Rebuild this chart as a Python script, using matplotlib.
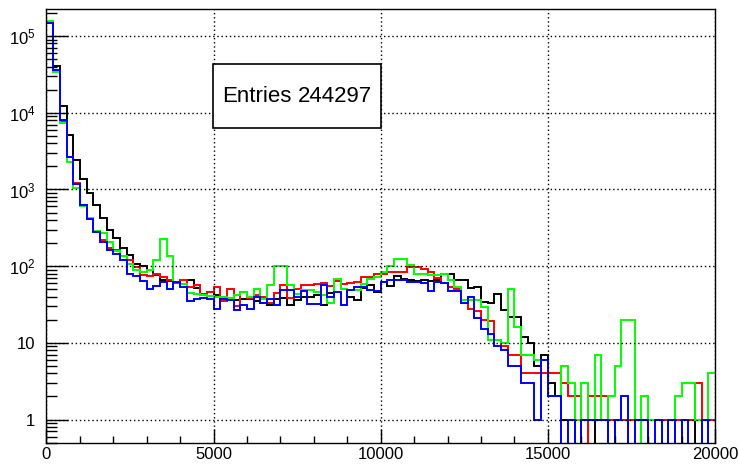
import numpy as np
import matplotlib
matplotlib.use('Agg')
import matplotlib.pyplot as plt
from matplotlib.patches import Rectangle
from matplotlib.ticker import FixedLocator, FuncFormatter, MultipleLocator, NullFormatter

plt.rcParams['font.family'] = ['Liberation Sans', 'DejaVu Sans']
plt.rcParams['mathtext.fontset'] = 'custom'
plt.rcParams['mathtext.rm'] = 'Liberation Sans'
plt.rcParams['mathtext.it'] = 'Liberation Sans:italic'

# 100 bins of width 200 between 0 and 20000
bin_edges = np.linspace(0, 20000, 101)
n_entries = 244297

h_black = [150000, 40700, 12200, 5200, 2450, 1350, 900, 620, 420, 295,
           236, 170, 139, 108, 100, 88, 76, 66, 64, 62,
           58, 66, 52, 44, 46, 42, 40, 37, 36, 37,
           37, 35, 33, 31, 37, 38, 31, 36, 40, 40,
           42, 31, 45, 65, 50, 40, 36, 52, 56, 46,
           62, 55, 75, 68, 66, 64, 66, 65, 66, 78,
           78, 66, 66, 52, 53, 34, 33, 44, 27, 22,
           22, 12, 10, 5, 7, 3, 2, 1, 1, 0,
           1, 0, 1, 1, 0, 1, 1, 0, 1, 0,
           1, 1, 0, 1, 0, 1, 1, 0, 1, 0]

h_red = [148000, 35000, 7900, 2650, 1200, 620, 417, 290, 222, 170,
         161, 134, 120, 98, 76, 74, 80, 72, 66, 60,
         66, 54, 56, 44, 46, 54, 35, 51, 30, 46,
         39, 42, 40, 33, 45, 57, 39, 50, 57, 57,
         59, 60, 55, 65, 59, 60, 63, 73, 73, 80,
         80, 83, 85, 85, 98, 98, 92, 84, 70, 60,
         54, 50, 33, 28, 26, 20, 19, 11, 9, 7,
         7, 4, 4, 4, 4, 4, 4, 3, 2, 2,
         0, 2, 2, 2, 1, 1, 1, 1, 1, 1,
         1, 1, 1, 1, 1, 1, 1, 3, 1, 1]

h_green = [155000, 34000, 7400, 2300, 1030, 600, 430, 290, 272, 207,
           160, 134, 108, 88, 85, 88, 120, 225, 134, 62,
           58, 45, 43, 42, 41, 40, 40, 39, 42, 46,
           40, 51, 37, 57, 100, 100, 57, 44, 49, 49,
           46, 42, 33, 69, 51, 49, 49, 59, 69, 72,
           83, 100, 125, 125, 104, 80, 80, 76, 76, 78,
           66, 54, 36, 36, 36, 29, 11, 11, 10, 51,
           16, 7, 7, 6, 6, 2, 2, 5, 3, 1,
           3, 1, 7, 1, 2, 5, 20, 20, 0, 2,
           1, 1, 0, 0, 2, 3, 3, 1, 0, 4]

h_blue = [150000, 35800, 8100, 2650, 1190, 620, 410, 280, 207, 161,
          142, 120, 80, 74, 65, 51, 55, 62, 51, 62,
          53, 35, 37, 38, 37, 28, 37, 36, 27, 31,
          28, 40, 33, 37, 31, 49, 49, 40, 47, 32,
          32, 57, 40, 46, 31, 49, 54, 54, 49, 47,
          62, 66, 66, 66, 63, 63, 60, 47, 63, 60,
          47, 47, 33, 40, 21, 15, 13, 9, 8, 5,
          5, 3, 3, 1, 6, 2, 2, 0, 1, 0,
          1, 1, 1, 1, 0, 1, 2, 0, 1, 1,
          0, 1, 0, 1, 0, 1, 0, 0, 1, 0]

fig = plt.figure(figsize=(7.39, 4.65), dpi=100)
ax = fig.add_axes([0.0629, 0.048, 0.9046, 0.9326])

for counts, col in [(h_black, 'black'), (h_red, '#ff0000'),
                    (h_green, '#00ff00'), (h_blue, '#0000ff')]:
    c = np.asarray(counts, dtype=float)
    # empty bins drop below the frame like in ROOT
    c = np.where(c > 0, c, 1e-2)
    ax.stairs(c, bin_edges, color=col, lw=1.4, baseline=None)

ax.set_yscale('log')
ax.set_xlim(0, 20000)
ax.set_ylim(0.5, 2.25e5)


def ylab(v, pos):
    e = int(round(np.log10(v)))
    if e == 0:
        return '1'
    if e == 1:
        return '10'
    return r'$10^{%d}$' % e


ax.yaxis.set_major_locator(FixedLocator([1, 10, 1e2, 1e3, 1e4, 1e5]))
ax.yaxis.set_major_formatter(FuncFormatter(ylab))
minors = [m * 10.0 ** d for d in range(-1, 6) for m in range(2, 10)]
ax.yaxis.set_minor_locator(FixedLocator(minors))
ax.yaxis.set_minor_formatter(NullFormatter())

ax.xaxis.set_major_locator(MultipleLocator(5000))
ax.xaxis.set_minor_locator(MultipleLocator(1000))

ax.tick_params(axis='y', which='major', direction='in', length=16, width=1,
               labelsize=12, pad=8)
ax.tick_params(axis='y', which='minor', direction='in', length=8, width=1)
ax.tick_params(axis='x', which='major', direction='in', length=10, width=1,
               labelsize=12, pad=3)
ax.tick_params(axis='x', which='minor', direction='in', length=5, width=1)

ax.grid(True, which='major', color='black', linestyle=(0, (1, 2)), linewidth=1)
ax.set_axisbelow(False)
for s in ax.spines.values():
    s.set_linewidth(1)

# stats box
fig.add_artist(Rectangle((0.2882, 0.7253), 0.2279, 0.1371, transform=fig.transFigure,
                         facecolor='white', edgecolor='black', lw=1.2, zorder=5))
fig.text(0.300, 0.7935, 'Entries', fontsize=16, ha='left', va='center', zorder=6)
fig.text(0.503, 0.7935, str(n_entries), fontsize=16, ha='right', va='center', zorder=6)

fig.savefig('out.png', dpi=100)
